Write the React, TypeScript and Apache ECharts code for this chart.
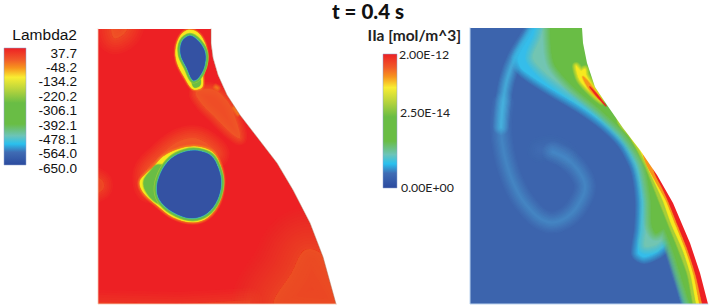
import React, { useEffect, useRef } from "react";
import * as echarts from "echarts";

type Pt = number[];
const RED = "#ED2024", ORANGE = "#F15A29", AMBER = "#F7941D", YELLOW = "#F6E91F", LIME = "#A6CE39", GREEN = "#69BD45", TEAL = "#72C5B2", CYAN = "#35BDEA", BLUE = "#3C64AD", DEEP = "#3452A3";

const lambdaDomain: Pt[] = [[98,29],[98,304],[336,304],[323,257],[310,223],[293,190],[277,163],[257,137],[240,115],[227,95],[218,75],[213,58],[211,43],[211,29]];
const iiaDomain: Pt[] = [[470,28],[470,304],[708,304],[700,273],[690,243],[673,203],[657,175],[640,150],[623,128],[607,105],[595,87],[587,63],[583,43],[582,28]];

const orangeTopLeft: Pt[] = [[112,24],[128,24],[124,34],[114,38]];
const orangeBand: Pt[] = [[196,92],[214,90],[228,102],[236,120],[240,138],[230,132],[214,116],[202,104]];
const orangeSide: Pt[] = [[92,176],[102,180],[104,187],[100,192],[92,194]];
const orangeHalo: Pt[] = [[146,172],[160,156],[176,143],[192,138],[206,143],[216,155],[190,165],[150,190]];
const orangeLow: Pt[] = [[275,306],[292,272],[305,250],[322,255],[345,310]];
const orangeFloor: Pt[] = [[98,302],[180,304],[250,300],[250,312],[98,312]];
const wallDotA: Pt[] = [[216,87],[217.5,88]];
const wallDotB: Pt[] = [[234,108],[238,114]];

const topOuter: Pt[] = [[189,30],[198,33],[205,44],[207,57],[203,73],[202,87],[193,89],[185,78],[177,62],[176,48],[181,35]];
const topBulge: Pt[] = [[192,78],[199,76],[200,85],[194,87]];
const topCore: Pt[] = [[190,36],[199,42],[205,53],[204,67],[198,78],[193,80],[187,68],[181,55],[182,42]];
const bigOuter: Pt[] = [[197,147],[212,152],[220,165],[223,182],[219,202],[208,217],[193,222],[173,217],[157,205],[144,193],[140,182],[147,173],[153,168],[163,157],[180,149]];
const bigBulge: Pt[] = [[158,165],[150,172],[144,181],[146,191],[156,202],[168,205],[170,170]];
const bigCore: Pt[] = [[198,151],[211,156],[218,168],[221,183],[217,200],[207,213],[193,218],[177,214],[162,203],[157,190],[161,173],[171,159],[185,152]];

const spiral: Pt[] = [[503,103],[501,127],[504,153],[513,182],[528,207],[548,222],[567,217],[581,200],[585,185],[578,170],[567,159],[553,152]];
const spiralUpper: Pt[] = [[536,24],[527,38],[515,58],[507,80],[503,103],[501,127]];
const spiralHeart: Pt[] = [[540,150],[553,148],[566,156]];
const outsideWall: Pt[] = [[720,340],[780,340],[780,-20],[600,-20]];
const cyanFan: Pt[] = [[544,14],[529,38],[518,58],[521,68],[531,76],[553,90],[580,106],[605,124],[624,143],[637,168],[642,200],[641,230],[638,253],[644,257],[657,252],[669,243],[679,270],[694,320]];
const tealFan: Pt[] = [[550,14],[540,40],[533,58],[547,74],[573,93],[600,112],[628,141],[641,167],[647,200],[646,232],[645,246],[655,245],[667,238],[681,278],[696,320]];
const greenFan: Pt[] = [[553,14],[551,45],[555,65],[574,87],[599,108],[625,133],[644,163],[651,200],[652,225],[656,233],[664,229],[673,250],[697,320]];
const limeEdge: Pt[] = [[618,122],[630,137],[645,165],[659,200],[669,225],[679,250],[688,275],[698,320]];
const yellowEdge: Pt[] = [[630,135],[640,150],[650,172],[663,200],[672,225],[683,250],[691,275],[701,320]];
const amberEdge: Pt[] = [[645,160],[655,180],[666,200],[676,225],[686,250],[694,275],[704,320]];
const redEdge: Pt[] = [[655,173],[662,187],[668,200],[678,225],[688,250],[696,275],[707,320]];
const yellowSpike: Pt[] = [[576,66],[581,71],[585,69],[586,75],[592,85],[602,101],[594,95],[580,80]];
const amberSpike: Pt[] = [[583,77],[589,83],[600,99],[590,90]];
const redSpike: Pt[] = [[590,87],[600,98],[606,106],[596,95]];

const lambdaTicks = ["37.7","-48.2","-134.2","-220.2","-306.1","-392.1","-478.1","-564.0","-650.0"];
const iiaTicks = ["2.00E-12","2.50E-14","0.00E+00"];
const iiaTickX = [399,400,401];
const iiaTickY = [54,112,187];

type Layer = { pts: Pt[]; fill?: string; stroke?: string; w?: number; smooth?: number; alpha?: number };

const alphaAt = (i: number, n: number, peak: number) => {
  const prev = (peak * i) / n;
  const cur = (peak * (i + 1)) / n;
  return (cur - prev) / (1 - prev);
};
const softFill = (pts: Pt[], color: string, spread: number, smooth = 0.35, peak = 1, steps = 6): Layer[] =>
  Array.from({ length: steps }, (_, i) => ({
    pts, fill: color, stroke: color, smooth,
    w: (spread * 2 * (steps - 1 - i)) / (steps - 1),
    alpha: alphaAt(i, steps, peak),
  }));
const softLine = (pts: Pt[], color: string, width: number, peak = 0.8, smooth = 0.4, steps = 7): Layer[] =>
  Array.from({ length: steps }, (_, i) => ({
    pts, stroke: color, smooth,
    w: (width * (steps - i)) / steps,
    alpha: alphaAt(i, steps, peak),
  }));
const toWall = (edge: Pt[]): Pt[] => [...edge, ...outsideWall];
const solidRim = (pts: Pt[], color: string, reach: number): Layer => ({ pts, fill: color, stroke: color, w: reach * 2, smooth: 0.35 });

const layers: Layer[] = [
  { pts: lambdaDomain, fill: RED },
  ...softFill(orangeLow, ORANGE, 42, 0.35, 0.65, 16),
  ...softFill(orangeFloor, ORANGE, 12, 0, 0.4),
  ...softFill(orangeTopLeft, ORANGE, 16, 0.35, 0.7, 8),
  ...softFill(orangeBand, ORANGE, 7, 0.35, 0.8, 6),
  ...softFill(orangeSide, ORANGE, 9, 0.35, 0.55, 6),
  ...softFill(orangeHalo, ORANGE, 13, 0.35, 0.85, 8),
  ...softLine(wallDotA, AMBER, 7, 0.7),
  ...softLine(wallDotB, AMBER, 6, 0.7),
  ...softFill(topOuter, AMBER, 2.2),
  ...softFill(topOuter, YELLOW, 0.3),
  ...softFill(topBulge, GREEN, 1),
  solidRim(topCore, "#9CCB3B", 3.2),
  solidRim(topCore, GREEN, 2.6),
  ...softFill(topCore, CYAN, 1.3),
  ...softFill(topCore, DEEP, 0.2),
  ...softFill(bigOuter, AMBER, 2.8),
  ...softFill(bigOuter, YELLOW, 0.4),
  ...softFill(bigBulge, GREEN, 1.6),
  solidRim(bigCore, "#9CCB3B", 3.4),
  solidRim(bigCore, GREEN, 2.7),
  ...softFill(bigCore, CYAN, 1.4),
  ...softFill(bigCore, DEEP, 0.2),
  { pts: iiaDomain, fill: BLUE },
  ...softLine(spiralHeart, "#4A7FC2", 26, 0.4),
  ...softLine(spiral, "#4E9DD6", 22, 0.58, 0.4, 9),
  ...softLine(spiralUpper, "#49BDE6", 16, 0.75),
  ...softFill(toWall(cyanFan), CYAN, 7, 0.25, 1, 8),
  ...softFill(toWall(tealFan), TEAL, 8, 0.25, 1, 8),
  ...softFill(toWall(greenFan), GREEN, 8, 0.25, 1, 9),
  ...softFill(toWall(limeEdge), LIME, 1.5, 0.25),
  ...softFill(toWall(yellowEdge), YELLOW, 1, 0.25),
  ...softFill(toWall(amberEdge), AMBER, 0.8, 0.25),
  ...softFill(toWall(redEdge), RED, 0.8, 0.25),
  ...softFill(yellowSpike, YELLOW, 4, 0.3),
  ...softFill(amberSpike, AMBER, 1.5, 0.3),
  ...softFill(redSpike, RED, 1, 0.2),
];

const outerMask: Pt[] = [
  [0,0], ...lambdaDomain, lambdaDomain[0], [0,0],
  [470,0], ...iiaDomain, iiaDomain[0], [470,0],
  [709,0],[709,307],[0,307],
];
const maskLayers: Layer[] = [
  { pts: outerMask, fill: "#FFFFFF" },
  { pts: lambdaDomain.slice(2), stroke: "#A8654A", w: 0.7, alpha: 0.7 },
  { pts: [[470,28],[470,304],[708,304]], stroke: "#BBD3EE", w: 1 },
  { pts: [[98,29],[98,304],[336,304]], stroke: "#F6C9B0", w: 0.8 },
];
const allLayers = [...layers, ...maskLayers];

const ramp = () => new echarts.graphic.LinearGradient(0, 0, 0, 1, [
  { offset: 0, color: "#ED2024" },
  { offset: 0.1, color: "#F15A29" },
  { offset: 0.17, color: "#F7941D" },
  { offset: 0.25, color: "#F9ED32" },
  { offset: 0.36, color: "#B5D33D" },
  { offset: 0.47, color: "#69BD45" },
  { offset: 0.65, color: "#69BD45" },
  { offset: 0.75, color: "#6CC4B8" },
  { offset: 0.82, color: "#29C0EE" },
  { offset: 0.89, color: "#3F6CB4" },
  { offset: 1, color: "#2B4A9E" },
]);

export default function App() {
  const ref = useRef<HTMLDivElement>(null);
  useEffect(() => {
    document.body.style.margin = "0";
    const chart = echarts.init(ref.current!, undefined, { renderer: "svg" });
    const sans = "Liberation Sans";
    const cal = "Lato";
    const graphic: any[] = [
      { type: "rect", z: 10, shape: { x: 4, y: 48, width: 22, height: 117 }, style: { fill: ramp(), stroke: "#8FA3CF", lineWidth: 0.5 } },
      { type: "rect", z: 10, shape: { x: 383, y: 54, width: 14, height: 134 }, style: { fill: ramp(), stroke: "#8FA3CF", lineWidth: 0.5 } },
      { type: "text", z: 10, x: 368, y: 11, style: { text: "t = 0.4 s", font: `900 20.5px ${cal}`, fill: "#111", textAlign: "center", textVerticalAlign: "middle" } },
      { type: "text", z: 10, x: 77, y: 34, style: { text: "Lambda2", font: `15.5px ${sans}`, fill: "#111", textAlign: "right", textVerticalAlign: "middle" } },
      { type: "text", z: 10, x: 461, y: 35, style: { text: "IIa [mol/m^3]", font: `bold 15.5px ${cal}`, fill: "#222", textAlign: "right", textVerticalAlign: "middle" } },
      ...lambdaTicks.map((t, i) => ({ type: "text", z: 10, x: 77, y: 53 + i * 14.4, style: { text: t, font: `13.6px ${sans}`, fill: "#111", textAlign: "right", textVerticalAlign: "middle" } })),
      ...iiaTicks.map((t, i) => ({ type: "text", z: 10, x: iiaTickX[i], y: iiaTickY[i], style: { text: t, font: `12.3px ${cal}`, fill: "#222", textAlign: "left", textVerticalAlign: "middle" } })),
    ];
    chart.setOption({
      animation: false,
      grid: { left: 0, right: 0, top: 0, bottom: 0 },
      xAxis: { type: "value", min: 0, max: 709, show: false },
      yAxis: { type: "value", min: 0, max: 307, inverse: true, show: false },
      graphic,
      series: [{
        type: "custom",
        coordinateSystem: "cartesian2d",
        clip: false,
        silent: true,
        encode: { x: 0, y: 1 },
        data: allLayers.map((_, i) => [i, 0]),
        renderItem: (_p: any, api: any) => {
          const l = allLayers[api.value(0)];
          const points = l.pts.map((p) => api.coord(p));
          return {
            type: l.fill ? "polygon" : "polyline",
            shape: { points, smooth: l.smooth ?? 0 },
            style: {
              fill: l.fill ?? "none",
              stroke: l.stroke && (l.w ?? 0) > 0 ? l.stroke : "none",
              lineWidth: l.w ?? 0,
              opacity: l.alpha ?? 1,
              lineJoin: "round",
              lineCap: "round",
            },
          };
        },
      }],
    });
    return () => chart.dispose();
  }, []);
  return <div ref={ref} style={{ width: 709, height: 307 }} />;
}
